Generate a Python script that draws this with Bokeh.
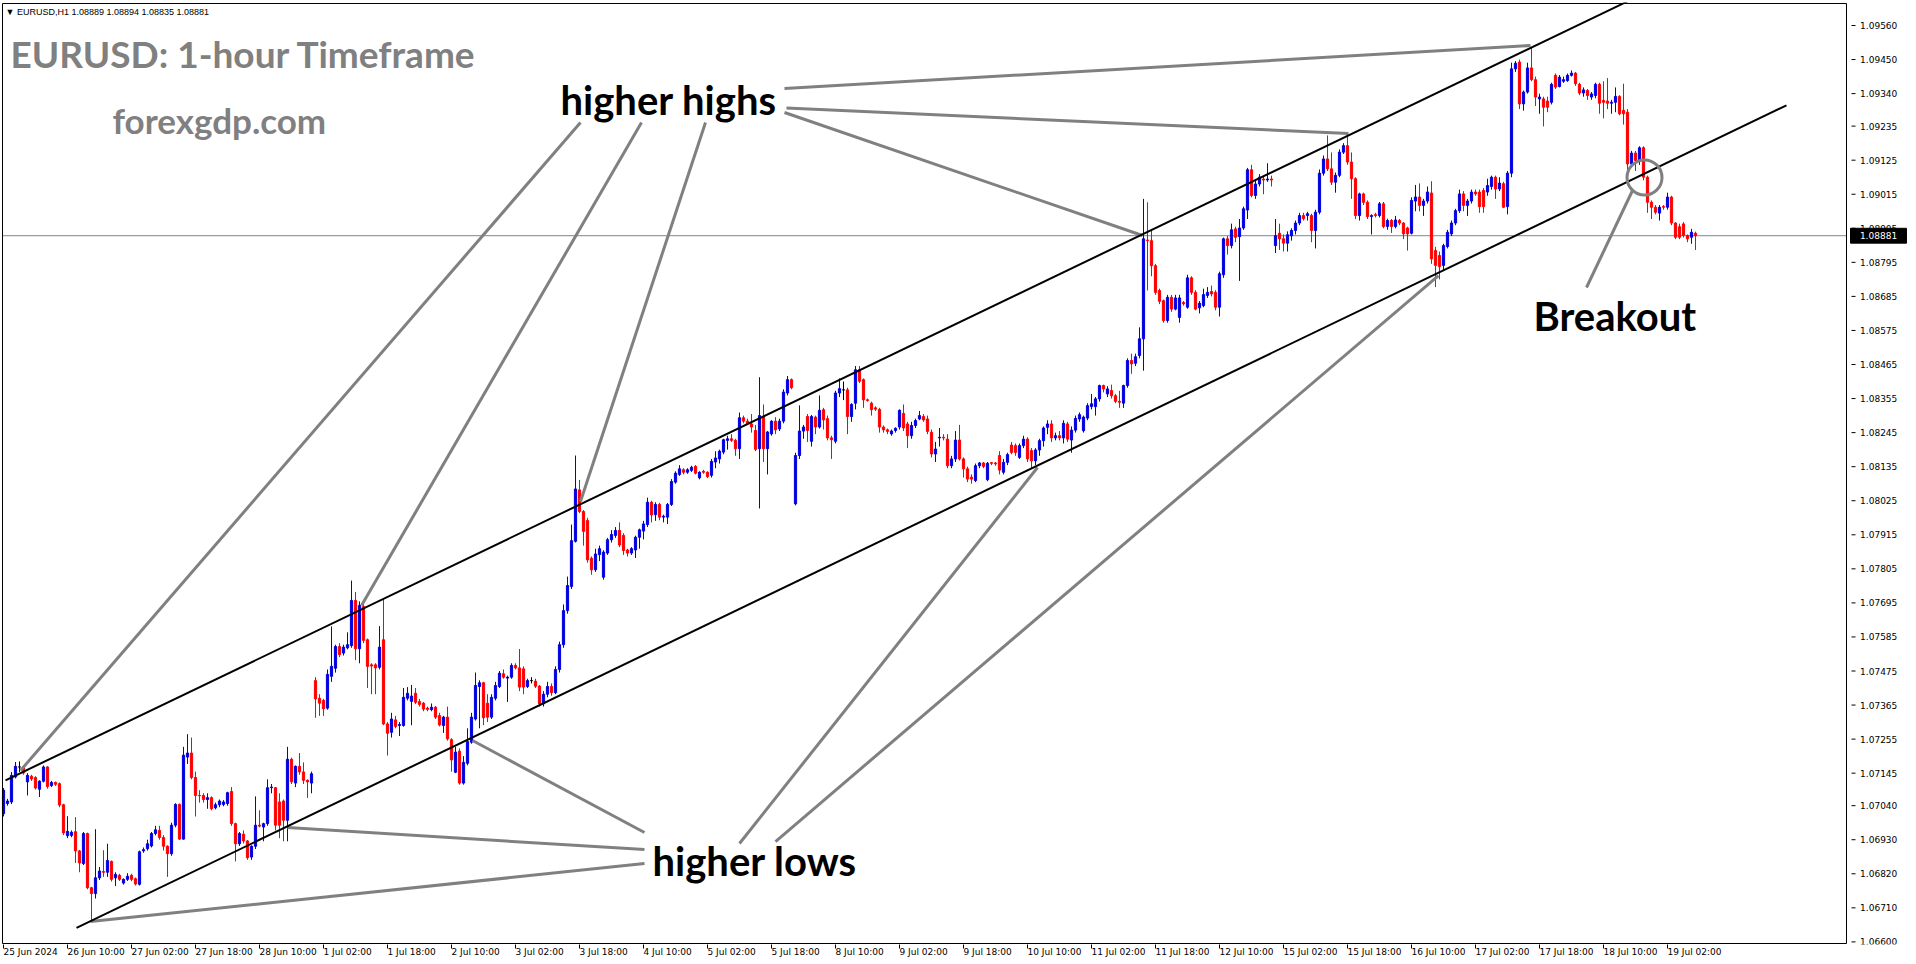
import numpy as np
from bokeh.plotting import figure
from bokeh.models import ColumnDataSource, FixedTicker, Range1d, Label
from bokeh.embed import file_html
from bokeh.resources import INLINE
from bokeh.core.properties import value

# ---------------- data (prices in points of 1e-5 above 1.06000) ----------------
BASE = 1.06
opens = [
1014,1047,1052,1133,1165,1163,1117,1135,1131,1093,
1119,1165,1105,1115,1111,1043,943,944,956,894,
853,950,775,756,807,827,825,860,807,815,
790,802,815,804,786,894,901,910,950,960,
937,909,885,977,1044,932,1197,1210,1131,1073,
1073,1060,1066,1033,1043,1044,1047,1086,982,917,
948,926,874,909,977,971,982,1098,1098,1052,
1055,993,1190,1113,1167,1149,1122,1113,1444,1387,
1380,1355,1458,1484,1554,1533,1550,1557,1703,1547,
1683,1576,1495,1495,1487,1576,1304,1277,1317,1299,
1299,1387,1377,1403,1376,1371,1355,1350,1358,1331,
1299,1326,1253,1148,1216,1113,1177,1245,1320,1425,
1437,1371,1326,1387,1425,1466,1452,1455,1493,1485,
1482,1425,1444,1442,1426,1369,1400,1425,1405,1480,
1560,1670,1748,1894,2060,1990,1961,1839,1802,1851,
1778,1856,1899,1913,1929,1913,1866,1856,1866,1907,
1927,1948,2020,1980,2013,1972,1972,2013,2085,2110,
2125,2117,2123,2136,2099,2120,2117,2107,2150,2160,
2182,2220,2225,2220,2193,2293,2282,2273,2252,2193,
2295,2193,2241,2282,2257,2282,2373,2416,2015,2171,
2250,2297,2217,2295,2263,2319,2290,2228,2217,2373,
2383,2383,2297,2340,2448,2416,2351,2340,2325,2320,
2263,2254,2241,2252,2263,2307,2273,2235,2268,2289,
2297,2289,2246,2176,2228,2230,2224,2138,2160,2221,
2160,2128,2101,2090,2138,2147,2093,2148,2147,2171,
2117,2149,2205,2203,2165,2203,2224,2187,2154,2189,
2219,2262,2273,2228,2235,2228,2273,2221,2253,2289,
2251,2292,2329,2329,2354,2397,2370,2381,2364,2346,
2340,2397,2478,2469,2494,2548,2867,2865,2784,2704,
2671,2607,2682,2644,2617,2665,2650,2745,2698,2648,
2655,2688,2701,2698,2650,2755,2871,2849,2903,2878,
2906,2964,3094,3011,3048,3064,3061,3064,2849,2889,
2871,2857,2881,2898,2922,2946,2946,2946,2898,2957,
3083,3129,3097,3054,3076,3151,3172,3119,3065,2946,
3016,2989,2943,2949,2946,2984,2911,2930,2911,2930,
2922,2906,2889,2993,3006,2979,2993,3019,2833,2817,
2785,2846,2887,2922,2962,3016,2979,2993,3022,3022,
3027,3022,3040,3070,3032,3049,2975,3083,3420,3442,
3307,3345,3423,3385,3323,3323,3316,3312,3399,3363,
3380,3382,3399,3406,3370,3342,3350,3329,3334,3370,
3318,3316,3309,3312,3331,3286,3280,3113,3148,3124,
3165,3070,2989,2973,2954,2975,2973,3006,2922,2910,
2919,2882,2876,2889]
highs = [
1097,1062,1149,1181,1183,1168,1145,1140,1135,1122,
1170,1168,1120,1118,1115,1046,1006,960,1003,897,
955,953,778,964,842,896,917,863,825,820,
805,822,820,808,895,905,930,955,975,975,
945,912,985,1048,1047,1230,1271,1260,1150,1090,
1080,1080,1070,1050,1060,1058,1085,1100,985,955,
960,929,912,1070,1025,985,1125,1110,1100,1080,
1060,1230,1195,1170,1210,1180,1125,1150,1455,1400,
1385,1480,1619,1560,1565,1560,1600,1767,1730,1700,
1690,1580,1500,1500,1620,1708,1310,1340,1330,1310,
1420,1423,1430,1420,1385,1375,1360,1370,1362,1340,
1330,1360,1258,1230,1225,1200,1290,1340,1470,1445,
1440,1400,1400,1440,1475,1480,1460,1500,1500,1546,
1490,1450,1455,1450,1430,1410,1440,1435,1490,1570,
1690,1780,1948,2171,2092,1995,1970,1845,1870,1880,
1865,1905,1930,1940,1955,1920,1870,1875,1912,1935,
1960,2035,2025,2020,2018,1980,2018,2095,2120,2140,
2130,2130,2138,2140,2120,2125,2120,2160,2185,2190,
2225,2235,2240,2225,2310,2300,2290,2305,2270,2424,
2336,2250,2285,2295,2290,2385,2428,2420,2180,2333,
2270,2305,2302,2300,2365,2325,2300,2235,2380,2420,
2410,2390,2340,2460,2460,2420,2355,2345,2330,2325,
2268,2258,2255,2262,2320,2336,2280,2280,2290,2315,
2305,2300,2255,2215,2260,2240,2240,2170,2250,2270,
2165,2135,2110,2145,2150,2150,2150,2150,2150,2185,
2160,2180,2215,2210,2210,2235,2230,2195,2195,2225,
2265,2285,2285,2245,2250,2285,2280,2265,2300,2310,
2300,2340,2370,2360,2400,2400,2395,2400,2370,2380,
2400,2485,2500,2500,2585,3000,2989,2900,2790,2710,
2675,2690,2690,2690,2690,2670,2755,2750,2705,2670,
2710,2715,2720,2705,2765,2875,2880,2920,2910,2935,
2975,3100,3110,3060,3080,3075,3115,3075,2935,2920,
2885,2895,2905,2930,2955,2955,2958,2952,2965,3095,
3140,3205,3150,3085,3160,3180,3205,3150,3070,3020,
3020,2995,2950,2955,2990,2990,2936,2935,2945,2935,
2925,2910,3005,3045,3050,3000,3040,3057,2845,2830,
2855,2900,2930,2968,3030,3025,3000,3030,3030,3030,
3035,3065,3075,3075,3070,3055,3090,3440,3445,3450,
3350,3440,3490,3395,3340,3330,3330,3375,3405,3400,
3395,3405,3415,3410,3375,3360,3355,3345,3375,3375,
3380,3390,3320,3360,3335,3372,3290,3155,3155,3170,
3170,3075,2995,2980,2980,2980,3020,3010,2925,2920,
2925,2885,2903,2894]
lows = [
1005,1040,1045,1128,1149,1140,1073,1120,1092,1068,
1115,1095,1100,1104,1035,945,935,938,855,825,
848,770,670,740,800,810,810,795,780,797,
785,797,796,782,782,888,895,905,944,930,
895,810,878,970,930,930,1175,1125,1005,1050,
1050,1030,1025,1028,1035,1038,1040,975,860,910,
918,865,865,900,970,925,975,1080,960,935,
925,925,1110,1100,1140,1110,1065,1080,1324,1330,
1330,1350,1440,1470,1520,1525,1545,1550,1510,1500,
1565,1420,1400,1400,1480,1300,1202,1260,1290,1265,
1295,1380,1300,1368,1360,1345,1345,1345,1320,1296,
1275,1250,1150,1145,1108,1108,1170,1240,1315,1290,
1300,1310,1320,1380,1420,1450,1375,1450,1480,1410,
1400,1420,1435,1420,1360,1360,1390,1395,1400,1470,
1550,1660,1740,1890,1985,1880,1825,1786,1795,1830,
1770,1850,1890,1905,1875,1850,1845,1850,1840,1870,
1900,1940,1955,1960,1962,1955,1950,2008,2080,2105,
2110,2112,2118,2110,2094,2112,2098,2100,2130,2145,
2175,2190,2215,2170,2160,2275,2270,2245,2185,2000,
2150,2110,2235,2240,2250,2275,2365,2385,2010,2160,
2225,2215,2200,2240,2258,2255,2220,2160,2210,2360,
2350,2240,2280,2320,2405,2325,2345,2300,2315,2245,
2245,2240,2235,2245,2255,2250,2195,2225,2260,2285,
2280,2240,2165,2150,2200,2220,2130,2130,2150,2155,
2100,2085,2080,2085,2130,2130,2088,2140,2138,2110,
2110,2140,2175,2170,2160,2195,2150,2130,2140,2170,
2200,2240,2215,2220,2220,2210,2215,2180,2245,2280,
2245,2285,2320,2300,2345,2375,2360,2355,2340,2325,
2325,2390,2435,2460,2485,2445,2704,2750,2690,2660,
2600,2600,2635,2640,2600,2655,2645,2690,2640,2630,
2650,2680,2685,2640,2620,2745,2820,2840,2860,2735,
2900,2935,3005,3000,3040,3015,3055,3040,2825,2835,
2830,2830,2865,2885,2915,2930,2930,2860,2840,2950,
3075,3090,3045,3020,3070,3145,3110,3000,2935,2930,
2980,2935,2885,2940,2940,2905,2900,2890,2905,2915,
2870,2833,2885,2960,2960,2945,2985,2790,2715,2740,
2770,2840,2880,2915,2955,2960,2945,2985,3010,2955,
2955,3010,3030,3000,3025,2970,2950,3070,3410,3290,
3285,3340,3380,3300,3275,3234,3280,3305,3355,3360,
3375,3378,3395,3365,3335,3330,3320,3320,3325,3275,
3260,3290,3275,3280,3270,3240,3090,3100,3090,3110,
3060,2955,2935,2950,2930,2965,2965,2915,2870,2870,
2875,2860,2855,2835]
closes = [
1090,1055,1138,1167,1165,1146,1138,1126,1097,1119,
1165,1102,1115,1109,1042,952,957,954,894,855,
950,775,756,807,829,825,863,802,818,802,
802,812,802,787,891,898,917,950,962,937,
909,885,977,1044,932,1203,1210,1131,1073,1072,
1060,1066,1030,1043,1055,1052,1082,982,917,950,
926,872,909,977,974,982,1098,1100,977,977,
993,1190,1117,1167,1149,1122,1117,1143,1385,1371,
1353,1464,1490,1554,1528,1552,1560,1703,1547,1687,
1574,1490,1491,1485,1552,1304,1274,1320,1296,1302,
1390,1403,1394,1374,1367,1352,1351,1358,1326,1301,
1326,1256,1188,1213,1113,1180,1247,1326,1428,1437,
1324,1326,1390,1428,1468,1455,1455,1493,1485,1423,
1423,1444,1444,1426,1369,1400,1425,1405,1480,1560,
1670,1751,1896,2063,1990,1926,1834,1802,1853,1870,
1859,1899,1916,1929,1882,1864,1856,1870,1907,1931,
1950,2020,1979,2013,1972,1975,2013,2087,2114,2128,
2117,2125,2133,2114,2117,2117,2103,2152,2163,2185,
2222,2225,2220,2193,2293,2282,2273,2263,2191,2300,
2193,2247,2282,2254,2282,2376,2416,2390,2171,2250,
2263,2252,2297,2263,2317,2286,2228,2222,2373,2387,
2383,2297,2336,2448,2411,2351,2349,2319,2321,2263,
2254,2249,2250,2259,2317,2260,2235,2268,2284,2300,
2286,2249,2176,2192,2230,2228,2138,2160,2221,2160,
2128,2095,2095,2138,2147,2136,2146,2146,2144,2124,
2149,2174,2181,2181,2203,2224,2160,2154,2189,2219,
2260,2273,2228,2235,2228,2275,2224,2253,2291,2303,
2295,2332,2338,2354,2397,2386,2386,2364,2346,2343,
2397,2478,2467,2490,2548,2871,2865,2784,2698,2669,
2607,2682,2644,2680,2680,2661,2745,2698,2644,2663,
2691,2698,2693,2650,2758,2871,2849,2900,2876,2906,
2968,3094,3011,3048,3070,3061,3064,3061,2881,2871,
2857,2884,2898,2922,2946,2936,2952,2898,2957,3083,
3129,3097,3054,3076,3151,3172,3119,3065,2946,3016,
2989,2943,2946,2946,2984,2911,2930,2911,2932,2922,
2887,2887,2995,3006,2979,2993,3022,2806,2785,2781,
2849,2892,2922,2962,3016,2979,2993,3022,3016,2975,
2975,3043,3070,3032,3051,2973,3083,3420,3438,3307,
3345,3423,3385,3329,3329,3296,3296,3370,3361,3393,
3385,3399,3406,3372,3342,3352,3334,3339,3370,3309,
3312,3309,3312,3331,3275,3275,3113,3148,3124,3165,
3070,2989,2973,2957,2973,2973,3006,2922,2876,2876,
2882,2871,2892,2881]

x_tick_labels = ["25 Jun 2024", "26 Jun 10:00", "27 Jun 02:00", "27 Jun 18:00",
                 "28 Jun 10:00", "1 Jul 02:00", "1 Jul 18:00", "2 Jul 10:00",
                 "3 Jul 02:00", "3 Jul 18:00", "4 Jul 10:00", "5 Jul 02:00",
                 "5 Jul 18:00", "8 Jul 10:00", "9 Jul 02:00", "9 Jul 18:00",
                 "10 Jul 10:00", "11 Jul 02:00", "11 Jul 18:00", "12 Jul 10:00",
                 "15 Jul 02:00", "15 Jul 18:00", "16 Jul 10:00", "17 Jul 02:00",
                 "17 Jul 18:00", "18 Jul 10:00", "19 Jul 02:00"]
bars_per_label = 16
y_ticks = [1.06600, 1.06710, 1.06820, 1.06930, 1.07040, 1.07145, 1.07255, 1.07365,
           1.07475, 1.07585, 1.07695, 1.07805, 1.07915, 1.08025, 1.08135, 1.08245,
           1.08355, 1.08465, 1.08575, 1.08685, 1.08795, 1.08905, 1.09015, 1.09125,
           1.09235, 1.09340, 1.09450, 1.09560]
last_price = 1.08881
header = "\u25bc EURUSD,H1  1.08889 1.08894 1.08835 1.08881"

# annotation lines: (bar, price) pairs
channel_upper = ([0.5, 406.0], [1.071219, 1.096378])
channel_lower = ([18.25, 445.75], [1.066454, 1.093022])
hh_lines = [
    ([195.25, 381.75], [1.093565, 1.094954]),
    ([195.75, 336.25], [1.092935, 1.092111]),
    ([195.25, 284.75], [1.092790, 1.088817]),
    ([144.25, 4.25], [1.092467, 1.071535]),
    ([159.5, 89.5], [1.092467, 1.076865]),
    ([175.5, 144.25], [1.092467, 1.080224]),
]
hl_lines = [
    ([160.25, 71.0], [1.068983, 1.069694]),
    ([160.25, 21.75], [1.068531, 1.066657]),
    ([160.25, 117.25], [1.069532, 1.072504]),
    ([184.0, 258.5], [1.069177, 1.081322]),
    ([193.0, 358.75], [1.069242, 1.087524]),
]
breakout_line = ([395.75, 407.25], [1.087137, 1.090270])
breakout_circle = (410.25, 1.09069)

# ---------------- layout constants ----------------
X_LEFT, X_RIGHT = -0.25, 460.75          # chart border (bars)
Y_TOP, Y_BOT = 1.096311, 1.065948        # chart border (price)

# ---------------- build ----------------
o = BASE + np.array(opens) / 1e5
h = BASE + np.array(highs) / 1e5
l = BASE + np.array(lows) / 1e5
c = BASE + np.array(closes) / 1e5
xs = np.arange(len(o))
BLUE, RED = "#0000e0", "#ff0000"
col = np.where(c > o, BLUE, np.where(c < o, RED, "#000000"))
src = ColumnDataSource(dict(x=xs, o=o, h=h, l=l, c=c, col=col,
                            top=np.maximum(o, c), bot=np.minimum(o, c)))

p = figure(frame_width=1913, frame_height=942,
           x_range=Range1d(-0.5, 477.75), y_range=Range1d(1.065916, 1.096343),
           output_backend="svg", toolbar_location=None, y_axis_location=None,
           min_border_left=1, min_border_top=2, min_border_bottom=0, min_border_right=0)
p.background_fill_color = "white"
p.border_fill_color = "white"
p.outline_line_color = None
p.xgrid.visible = False
p.ygrid.visible = False

# last-price line
p.segment(x0=[X_LEFT], y0=[last_price], x1=[X_RIGHT], y1=[last_price],
          line_color="#778899", line_width=1)

# candles
p.segment(x0="x", y0="l", x1="x", y1="h", color="col", line_width=1, source=src)
p.vbar(x="x", top="top", bottom="bot", width=0.55, fill_color="col",
       line_color="col", line_width=1, source=src)

GRAY = "#808080"
for xx, yy in hh_lines + hl_lines + [breakout_line]:
    p.line(xx, yy, line_color=GRAY, line_width=3)
for xx, yy in [channel_upper, channel_lower]:
    p.line(xx, yy, line_color="black", line_width=2)
p.scatter([breakout_circle[0]], [breakout_circle[1]], marker="circle", size=35,
          fill_alpha=0, line_color=GRAY, line_width=3)

# chart border
p.line([X_LEFT, X_RIGHT, X_RIGHT, X_LEFT, X_LEFT], [Y_TOP, Y_TOP, Y_BOT, Y_BOT, Y_TOP],
       line_color="black", line_width=1)

# price scale on the right (MetaTrader style)
n = len(y_ticks)
p.segment(x0=[X_RIGHT + 1.25] * n, y0=y_ticks, x1=[X_RIGHT + 2.25] * n, y1=y_ticks,
          line_color="black", line_width=1)
p.text(x=[X_RIGHT + 3.4] * n, y=y_ticks, text=["%.5f" % v for v in y_ticks],
       text_font=value("DejaVu Sans"), text_font_size="9px", text_color="black",
       text_align="left", text_baseline="middle")
p.rect(x=[X_RIGHT + 8.0], y=[last_price], width=14, height=0.00048,
       fill_color="black", line_color="black")
p.text(x=[X_RIGHT + 8.0], y=[last_price], text=["%.5f" % last_price],
       text_font=value("DejaVu Sans"), text_font_size="9px", text_color="white",
       text_align="center", text_baseline="middle")

# time axis
xa = p.xaxis[0]
xa.ticker = FixedTicker(ticks=[i * bars_per_label for i in range(len(x_tick_labels))])
xa.major_label_overrides = {i * bars_per_label: t for i, t in enumerate(x_tick_labels)}
xa.major_tick_in = 0
xa.major_tick_out = 4
xa.minor_tick_out = 0
xa.minor_tick_in = 0
xa.axis_line_color = None
xa.major_tick_line_color = "black"
xa.major_label_text_font = "DejaVu Sans"
xa.major_label_text_font_size = "9px"
xa.major_label_text_color = "black"
xa.major_label_orientation = -0.0001
xa.major_label_standoff = 3

# texts
def lab(x, y, text, size, color, font="Lato", style="bold"):
    p.add_layout(Label(x=x, y=y, text=text, text_font=font, text_font_size=size,
                       text_font_style=style, text_color=color,
                       text_align="left", text_baseline="middle"))

lab(0.5, 1.09605, header, "9px", "black", font="Liberation Sans", style="normal")
lab(1.75, 1.09471, "EURUSD: 1-hour Timeframe", "37px", GRAY)
lab(27.25, 1.09255, "forexgdp.com", "35px", GRAY)
lab(139.25, 1.09319, "higher highs", "40px", "black")
lab(162.25, 1.06861, "higher lows", "40px", "black")
lab(382.5, 1.08623, "Breakout", "40px", "black")

open("out.html", "w").write(file_html(p, INLINE))
